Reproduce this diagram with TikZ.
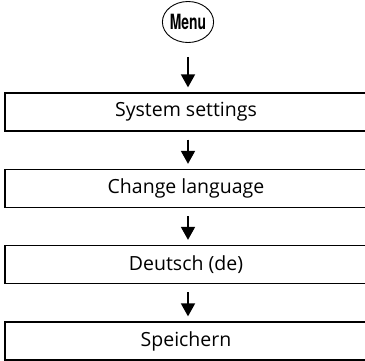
\documentclass[tikz,border=0pt]{standalone}
\usepackage{fontspec}
\setmainfont{Open Sans}
\newfontfamily\menufont{TeX Gyre Heros}
\usetikzlibrary{arrows.meta,shapes.geometric}
\begin{document}
\begin{tikzpicture}[x=1pt,y=-1pt,
  stepbox/.style={draw, line width=1.3pt, minimum width=362pt, minimum height=38pt, inner sep=0pt, font=\fontsize{19.5}{22}\selectfont},
  flow/.style={line width=1.8pt, -{Triangle[width=14pt,length=13pt]}}]
\useasboundingbox (0,0) rectangle (365,360);
\clip (0,0) rectangle (365,360);
\node[ellipse, draw, line width=0.9pt, minimum width=43pt, minimum height=41pt, inner sep=0pt] (menu) at (188,22)
  {\menufont\bfseries\fontsize{21}{22}\selectfont\scalebox{0.66}[1]{Menu}};
\node[stepbox] (s1) at (186,112) {System settings};
\node[stepbox] (s2) at (186,188.5) {Change language};
\node[stepbox] (s3) at (186,264.5) {Deutsch (de)};
\node[stepbox] (s4) at (186,341) {Speichern};
\draw[flow, shorten <=14pt, shorten >=5pt] (menu.south -| 188,0) -- (s1.north -| 188,0);
\draw[flow, shorten <=8pt, shorten >=5pt] (s1.south -| 188,0) -- (s2.north -| 188,0);
\draw[flow, shorten <=8pt, shorten >=5pt] (s2.south -| 188,0) -- (s3.north -| 188,0);
\draw[flow, shorten <=8pt, shorten >=5pt] (s3.south -| 188,0) -- (s4.north -| 188,0);
\end{tikzpicture}
\end{document}
